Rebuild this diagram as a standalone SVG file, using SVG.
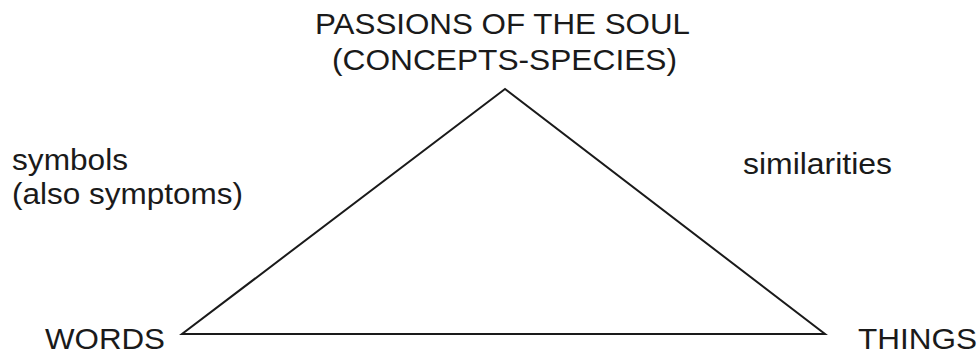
<svg xmlns="http://www.w3.org/2000/svg" width="979" height="356" viewBox="0 0 979 356">
<style>
text{font-family:"Liberation Sans",Arial,sans-serif;font-size:30px;fill:#1a1a1a}
.edge{stroke:#1a1a1a;stroke-width:2;fill:none;stroke-linejoin:miter}
</style>
<rect width="979" height="356" fill="#fff"/>
<g id="connectors">
<path class="edge" d="M505,89 L182,334 L825,334 Z"/>
</g>
<g id="node-passions">
<text x="315" y="34" textLength="375" lengthAdjust="spacingAndGlyphs">PASSIONS OF THE SOUL</text>
<text x="332" y="70" textLength="345" lengthAdjust="spacingAndGlyphs">(CONCEPTS-SPECIES)</text>
</g>
<g id="node-words">
<text x="45" y="349" textLength="120" lengthAdjust="spacingAndGlyphs">WORDS</text>
</g>
<g id="node-things">
<text x="858" y="349" textLength="119" lengthAdjust="spacingAndGlyphs">THINGS</text>
</g>
<g id="label-symbols">
<text x="12" y="170" textLength="116" lengthAdjust="spacingAndGlyphs">symbols</text>
<text x="12" y="204" textLength="231" lengthAdjust="spacingAndGlyphs">(also symptoms)</text>
</g>
<g id="label-similarities">
<text x="743" y="174" textLength="149" lengthAdjust="spacingAndGlyphs">similarities</text>
</g>
</svg>
